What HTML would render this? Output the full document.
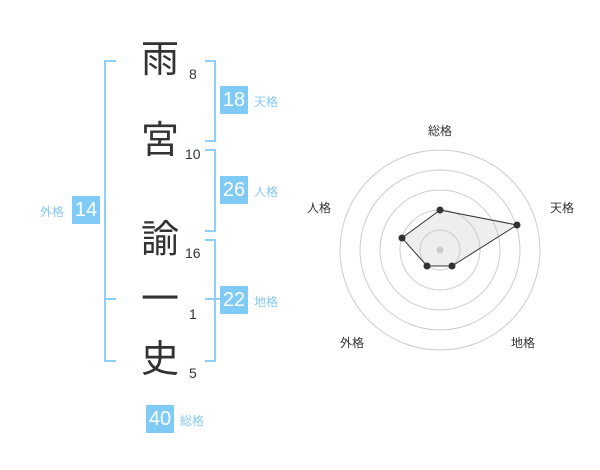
<!DOCTYPE html>
<html><head><meta charset="utf-8"><style>
body{margin:0;width:600px;height:470px;background:#fff;position:relative;overflow:hidden;font-family:"Liberation Sans","Noto Sans CJK JP",sans-serif}
.k{position:absolute;left:140px;width:40px;text-align:center;font-size:38px;line-height:40px;color:#333}
.n{position:absolute;font-size:14px;color:#333;line-height:16px}
.b{position:absolute;width:28px;height:28px;background:#7fcbf6;color:#fff;font-size:20px;line-height:28px;text-align:center}
.l{position:absolute;font-size:12px;color:#86c9f0;line-height:14px}
.br{position:absolute;border:2px solid #8ccff8}
.r{position:absolute;font-size:12px;color:#333;line-height:14px}
</style></head><body>
<div class="k" style="top:40px">雨</div>
<div class="k" style="top:121px">宮</div>
<div class="k" style="top:220px">諭</div>
<div class="k" style="top:280px">一</div>
<div class="k" style="top:340px">史</div>
<div class="n" style="left:189px;top:66px">8</div>
<div class="n" style="left:185px;top:146px">10</div>
<div class="n" style="left:185px;top:245px">16</div>
<div class="n" style="left:189px;top:306px">1</div>
<div class="n" style="left:189px;top:365px">5</div>
<!-- left bracket -->
<div class="br" style="left:104px;top:60px;width:10px;height:298px;border-right:none"></div>
<div style="position:absolute;left:104px;top:298px;width:12px;height:2px;background:#8ccff8"></div>
<!-- right brackets -->
<div class="br" style="left:205px;top:60px;width:9px;height:78px;border-left:none"></div>
<div class="br" style="left:205px;top:149px;width:9px;height:79px;border-left:none"></div>
<div class="br" style="left:205px;top:239px;width:9px;height:119px;border-left:none"></div>
<div style="position:absolute;left:205px;top:298px;width:11px;height:2px;background:#8ccff8"></div>
<div style="position:absolute;left:214px;top:298px;width:6px;height:2px;background:#8ccff8"></div>
<div class="b" style="left:220px;top:86px">18</div><div class="l" style="left:254px;top:95px">天格</div>
<div class="b" style="left:220px;top:176px">26</div><div class="l" style="left:254px;top:185px">人格</div>
<div class="b" style="left:220px;top:286px">22</div><div class="l" style="left:254px;top:295px">地格</div>
<div class="b" style="left:72px;top:196px">14</div><div class="l" style="left:40px;top:205px">外格</div>
<div class="b" style="left:146px;top:405px">40</div><div class="l" style="left:180px;top:414px">総格</div>
<svg style="position:absolute;left:0;top:0" width="600" height="470">
<g fill="none" stroke="#ccc" stroke-width="1">
<circle cx="440" cy="250" r="100"/><circle cx="440" cy="250" r="80"/><circle cx="440" cy="250" r="60"/><circle cx="440" cy="250" r="40"/><circle cx="440" cy="250" r="20"/>
</g>
<polygon points="440,210 517,225 452,266 427,266 402,238" fill="rgba(200,200,200,0.3)" stroke="#333" stroke-width="1"/>
<g fill="#333"><circle cx="440" cy="210" r="3.5"/><circle cx="517" cy="225" r="3.5"/><circle cx="452" cy="266" r="3.5"/><circle cx="427" cy="266" r="3.5"/><circle cx="402" cy="238" r="3.5"/></g>
<circle cx="440" cy="250" r="3.5" fill="#ccc"/>
</svg>
<div class="r" style="left:428px;top:124px">総格</div>
<div class="r" style="left:550px;top:201px">天格</div>
<div class="r" style="left:511px;top:336px">地格</div>
<div class="r" style="left:340px;top:336px">外格</div>
<div class="r" style="left:307px;top:201px">人格</div>
</body></html>
